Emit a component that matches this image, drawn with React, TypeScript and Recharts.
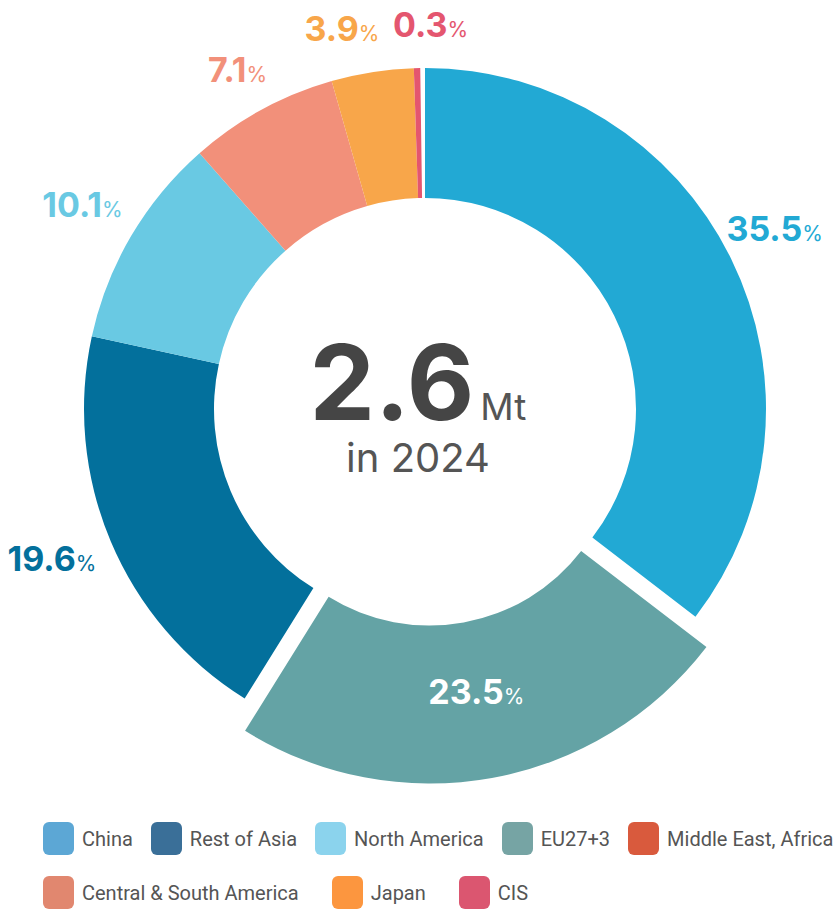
import React from 'react';
import { PieChart, Pie, Cell, Legend } from 'recharts';

// ---- data ----
const categories = ['China', 'EU27+3', 'Rest of Asia', 'North America', 'Central & South America', 'Japan', 'CIS'];
const shares = [35.5, 23.5, 19.6, 10.1, 7.1, 3.9, 0.3];
const sliceColors = ['#22a9d4', '#64a3a5', '#03709c', '#69c9e3', '#f2907a', '#f8a64a', '#e4566f'];
const highlighted = 'EU27+3';

const legendNames = ['China', 'Rest of Asia', 'North America', 'EU27+3', 'Middle East, Africa', 'Central & South America', 'Japan', 'CIS'];
const legendColors = ['#5ca7d5', '#3a6f98', '#8bd3ed', '#76a4a4', '#d95a3d', '#e1876f', '#fc963f', '#db5670'];

const totalValue = '2.6';
const totalUnit = 'Mt';
const yearLabel = 'in 2024';

const data = categories.map((name, i) => ({ name, value: shares[i] }));

// ---- geometry / style ----
const W = 840;
const H = 911;
const CX = 420;
const CY = 404;
const R_IN = 211;
const R_OUT = 341;
const START = 90;
const SWEEP = 359.2;
const END = START - SWEEP;
const EXPLODE = 26;
const R_IN_HI = 191;
const R_OUT_HI = 349;
const RAD = Math.PI / 180;

const hiIndex = categories.indexOf(highlighted);
const total = shares.reduce((a, b) => a + b, 0);
const midAngles = shares.map((v, i) => {
  const before = shares.slice(0, i).reduce((a, b) => a + b, 0);
  return START - (SWEEP * (before + v / 2)) / total;
});
const hiMid = midAngles[hiIndex];
const HI_CX = CX + EXPLODE * Math.cos(hiMid * RAD);
const HI_CY = CY - EXPLODE * Math.sin(hiMid * RAD);

const FONT = 'Inter, "Open Sans", sans-serif';
const NUM_SIZE = 34;
const PCT_SIZE = 21;
const LABEL_GAP = 25;
const LABEL_HH = 13;
const MIN_SEP = 20;

function estWidth(s: string) {
  let w = 0;
  for (const ch of s) w += ch === '.' ? 9.5 : 22;
  return w + 15;
}

// outer label layout, with simple collision avoidance
type Box = { x: number; y: number; hw: number };
const labelBoxes: Box[] = shares.map((v, i) => {
  const c = Math.cos(midAngles[i] * RAD);
  const s = Math.sin(midAngles[i] * RAD);
  const hw = estWidth(v.toFixed(1)) / 2;
  const t = Math.min(Math.abs(c) > 1e-6 ? hw / Math.abs(c) : 1e9, Math.abs(s) > 1e-6 ? LABEL_HH / Math.abs(s) : 1e9);
  const d = R_OUT + LABEL_GAP + t;
  return { x: CX + d * c, y: CY - d * s, hw };
});
for (let pass = 0; pass < 3; pass++) {
  for (let i = 0; i < labelBoxes.length; i++) {
    for (let j = i + 1; j < labelBoxes.length; j++) {
      if (i === hiIndex || j === hiIndex) continue;
      const a = labelBoxes[i];
      const b = labelBoxes[j];
      if (Math.abs(a.y - b.y) > LABEL_HH * 2) continue;
      const need = a.hw + b.hw + MIN_SEP;
      const dist = Math.abs(a.x - b.x);
      if (dist < need) {
        const push = (need - dist) / 2;
        if (a.x >= b.x) { a.x += push; b.x -= push; } else { a.x -= push; b.x += push; }
      }
    }
  }
}

function PctText({ x, y, value, color }: { x: number; y: number; value: number; color: string }) {
  return (
    <text x={x} y={y} textAnchor="middle" fill={color} fontFamily={FONT}>
      <tspan fontSize={NUM_SIZE} fontWeight={700}>{value.toFixed(1)}</tspan>
      <tspan fontSize={PCT_SIZE} fontWeight={400} dx={0}>%</tspan>
    </text>
  );
}

const outerLabel = (props: any) => {
  const { index, value } = props;
  if (index === hiIndex) return <g />;
  const b = labelBoxes[index];
  return <PctText key={'l' + index} x={b.x} y={b.y + 12} value={value} color={sliceColors[index]} />;
};

const innerLabel = (props: any) => {
  const { cx, cy, midAngle, index, value } = props;
  if (index !== hiIndex) return <g />;
  const d = 262;
  const x = cx + d * Math.cos(midAngle * RAD);
  const y = cy - d * Math.sin(midAngle * RAD);
  return <PctText key={'i' + index} x={x} y={y + 12} value={value} color="#ffffff" />;
};

function LegendBlock() {
  const rows = [legendNames.slice(0, 5), legendNames.slice(5)];
  let k = 0;
  return (
    <div style={{ fontFamily: 'Roboto, sans-serif', fontSize: 20, color: '#555' }}>
      {rows.map((row, ri) => (
        <div key={ri} style={{ display: 'flex', alignItems: 'center', paddingLeft: 43, height: 33, marginBottom: ri === 0 ? 21 : 0 }}>
          {row.map((name) => {
            const idx = k++;
            return (
              <div key={name} style={{ display: 'flex', alignItems: 'center', marginRight: ri === 0 ? 18 : 33 }}>
                <span style={{ display: 'inline-block', flex: 'none', width: 31, height: 33, borderRadius: 6, background: legendColors[idx] }} />
                <span style={{ marginLeft: 8, whiteSpace: 'nowrap' }}>{name}</span>
              </div>
            );
          })}
        </div>
      ))}
    </div>
  );
}

export default function App() {
  return (
    <div style={{ position: 'absolute', left: 0, top: 0, width: W, height: H, background: '#fff' }}>
      <PieChart width={W} height={H}>
        <Pie
          data={data}
          dataKey="value"
          nameKey="name"
          cx={CX}
          cy={CY}
          innerRadius={R_IN}
          outerRadius={R_OUT}
          startAngle={START}
          endAngle={END}
          stroke="none"
          isAnimationActive={false}
          label={outerLabel}
          labelLine={false}
        >
          {data.map((d, i) => (
            <Cell key={d.name} fill={i === hiIndex ? 'transparent' : sliceColors[i]} />
          ))}
        </Pie>
        <Pie
          data={data}
          dataKey="value"
          nameKey="name"
          cx={HI_CX}
          cy={HI_CY}
          innerRadius={R_IN_HI}
          outerRadius={R_OUT_HI}
          startAngle={START}
          endAngle={END}
          stroke="none"
          isAnimationActive={false}
          label={innerLabel}
          labelLine={false}
        >
          {data.map((d, i) => (
            <Cell key={d.name} fill={i === hiIndex ? sliceColors[i] : 'transparent'} />
          ))}
        </Pie>
        <text x={418} y={420} textAnchor="middle" fontFamily={FONT}>
          <tspan fontSize={104} fontWeight={700} fill="#454545">{totalValue}</tspan>
          <tspan fontSize={37} fontWeight={400} fill="#555" dx={6}>{totalUnit}</tspan>
        </text>
        <text x={418} y={472} textAnchor="middle" fontFamily={FONT} fontSize={40} fill="#555">
          {yearLabel}
        </text>
        <Legend
          content={() => <LegendBlock />}
          wrapperStyle={{ position: 'absolute', left: 0, top: 822, width: W }}
        />
      </PieChart>
    </div>
  );
}
